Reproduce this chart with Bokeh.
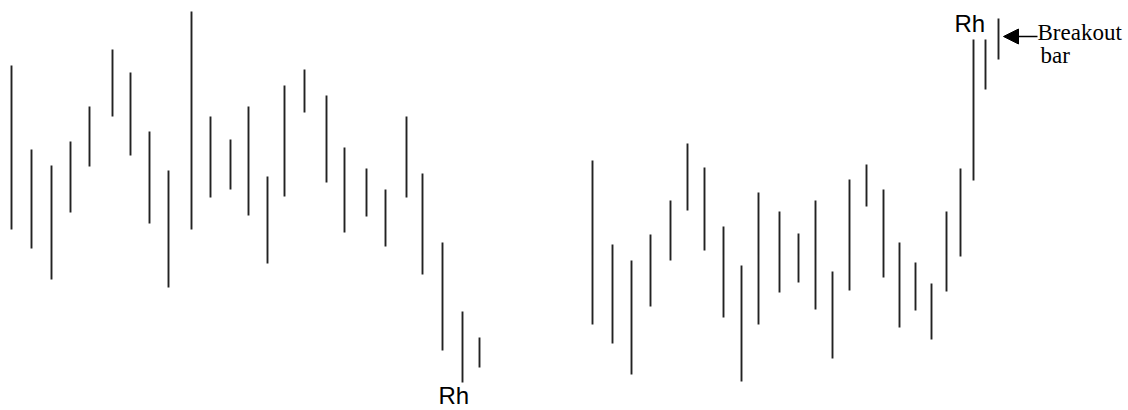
from bokeh.plotting import figure
from bokeh.models import Range1d, Arrow, NormalHead, ColumnDataSource
from bokeh.core.properties import value
from bokeh.embed import file_html
from bokeh.resources import INLINE

# Bar positions (trading-day positions) and high/low prices
left_x = [11, 31, 51, 70, 89, 112, 130, 149, 168, 191, 210, 230, 248, 267, 284, 304, 326, 344, 366, 385, 406, 422, 442, 462, 479]
left_high = [345, 261, 245, 269, 304, 361, 338, 279, 240, 399, 294, 271, 304, 234, 325, 341, 315, 263, 242, 221, 294, 237, 168, 99, 73]
left_low = [181, 162, 131, 198, 244, 294, 255, 187, 123, 181, 213, 221, 195, 147, 214, 298, 228, 178, 194, 164, 213, 136, 60, 28, 43]

right_x = [592, 612, 631, 650, 670, 687, 704, 723, 741, 758, 779, 798, 815, 832, 849, 866, 883, 899, 915, 931, 946, 960, 973, 985, 998]
right_high = [250, 166, 150, 176, 210, 267, 243, 184, 145, 218, 199, 177, 210, 139, 231, 246, 221, 168, 148, 127, 199, 242, 371, 371, 392]
right_low = [86, 67, 36, 104, 150, 200, 160, 93, 29, 86, 118, 128, 101, 52, 120, 204, 133, 83, 100, 71, 119, 154, 230, 321, 351]

# Annotation labels
rh_x = [438, 954]
rh_y = [15, 387]
rh_text = ["Rh", "Rh"]

note_x = [1037, 1040]
note_y = [378, 355]
note_text = ["Breakout", "bar"]

arrow_start = (1037, 374)
arrow_end = (1003, 374)

p = figure(width=1128, height=410, output_backend="svg", toolbar_location=None,
           x_range=Range1d(0, 1128), y_range=Range1d(0, 410),
           x_axis_location=None, y_axis_location=None, min_border=0)
p.outline_line_color = None
p.xgrid.visible = False
p.ygrid.visible = False
p.background_fill_color = "white"
p.border_fill_color = "white"

xs = left_x + right_x
highs = left_high + right_high
lows = left_low + right_low
src = ColumnDataSource(dict(x=xs, high=highs, low=lows))
p.segment(x0="x", y0="low", x1="x", y1="high", source=src, line_color="#222222", line_width=1.9)

p.text(x=rh_x, y=rh_y, text=rh_text, text_font=value("Liberation Sans"), text_font_size="24px",
       text_color="black", text_baseline="alphabetic", text_align="left")
p.text(x=note_x, y=note_y, text=note_text, text_font=value("Liberation Serif"), text_font_size="23px",
       text_color="black", text_baseline="alphabetic", text_align="left")

p.add_layout(Arrow(x_start=arrow_start[0], y_start=arrow_start[1], x_end=arrow_end[0], y_end=arrow_end[1],
                   line_color="black", line_width=1.5,
                   end=NormalHead(size=15, fill_color="black", line_color="black")))

open("out.html", "w").write(file_html(p, INLINE))
